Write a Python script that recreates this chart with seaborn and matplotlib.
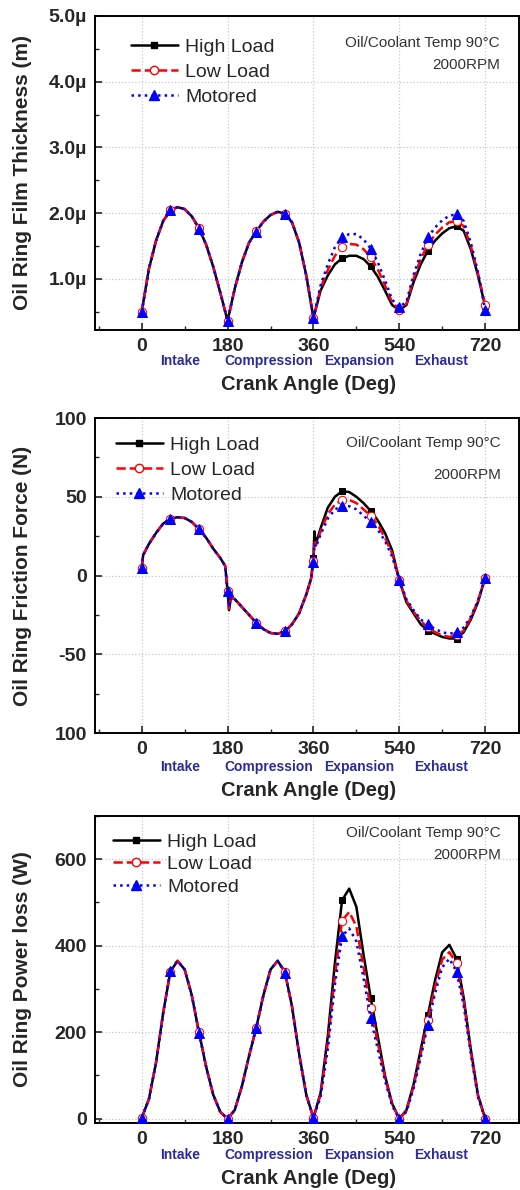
import numpy as np
import pandas as pd
import seaborn as sns
import matplotlib
matplotlib.use("Agg")
import matplotlib.pyplot as plt
from matplotlib.ticker import MultipleLocator
from matplotlib.lines import Line2D

# ---------------- data ----------------
series_names = ["High Load", "Low Load", "Motored"]
phase_labels = ["Intake", "Compression", "Expansion", "Exhaust"]
phase_pos = [80, 266, 456, 628]
x_ticks = [0, 180, 360, 540, 720]

# Panel 1: oil ring film thickness (micro-metres)
ang1 = [0, 15, 30, 45, 60, 75, 90, 105, 120, 135, 150, 165, 180,
        195, 210, 225, 240, 255, 270, 285, 300, 315, 330, 345, 360,
        375, 390, 405, 420, 435, 450, 465, 480, 495, 510, 525, 540,
        555, 570, 585, 600, 615, 630, 645, 660, 675, 690, 705, 720]
film_high = [0.50, 1.15, 1.58, 1.88, 2.04, 2.09, 2.06, 1.95, 1.77, 1.52, 1.18, 0.78, 0.36,
             0.85, 1.25, 1.55, 1.72, 1.87, 1.97, 2.02, 1.99, 1.86, 1.55, 1.05, 0.40,
             0.82, 1.05, 1.22, 1.31, 1.35, 1.35, 1.30, 1.19, 1.03, 0.82, 0.60, 0.52,
             0.60, 0.95, 1.22, 1.43, 1.58, 1.69, 1.77, 1.80, 1.73, 1.45, 1.05, 0.58]
film_low = [0.50, 1.15, 1.58, 1.88, 2.04, 2.09, 2.06, 1.95, 1.77, 1.52, 1.18, 0.78, 0.36,
            0.85, 1.25, 1.55, 1.72, 1.87, 1.97, 2.02, 1.99, 1.86, 1.55, 1.05, 0.40,
            0.86, 1.13, 1.35, 1.48, 1.53, 1.52, 1.45, 1.33, 1.14, 0.90, 0.64, 0.53,
            0.62, 1.00, 1.30, 1.52, 1.67, 1.78, 1.86, 1.88, 1.80, 1.50, 1.08, 0.60]
film_mot = [0.49, 1.15, 1.58, 1.88, 2.04, 2.09, 2.06, 1.95, 1.76, 1.52, 1.18, 0.78, 0.36,
            0.85, 1.25, 1.55, 1.71, 1.87, 1.97, 2.02, 1.99, 1.86, 1.55, 1.05, 0.40,
            0.90, 1.22, 1.48, 1.63, 1.68, 1.68, 1.60, 1.46, 1.25, 0.98, 0.68, 0.57,
            0.65, 1.06, 1.38, 1.63, 1.78, 1.89, 1.96, 1.98, 1.88, 1.55, 1.10, 0.53]

# Panel 2: oil ring friction force (N)
ang2 = [0, 3, 15, 30, 45, 60, 75, 90, 105, 120, 135, 150, 165, 175, 180, 183, 187,
        195, 210, 225, 240, 255, 270, 285, 300, 315, 330, 345, 355, 360, 362, 365,
        375, 390, 405, 420, 435, 450, 465, 480, 495, 510, 525, 540,
        555, 570, 585, 600, 615, 630, 645, 660, 675, 690, 705, 720]
fric_high = [5, 13, 20, 27, 33, 36, 37, 36.5, 34, 29.5, 24, 17, 11, 6, -10, -22, -14,
             -15, -20, -25, -30, -34, -36.5, -37, -35.5, -31, -24, -12, -2, 11, 28, 20,
             30, 43, 50, 53.5, 53, 50, 46, 41, 35, 27, 16, -3,
             -17, -24, -31, -35, -37, -39, -40, -40, -36, -28, -17, -1.5]
fric_low = [5, 13, 20, 27, 33, 36, 37, 36.5, 34, 29.5, 24, 17, 11, 6, -10, -21, -14,
            -15, -20, -25, -30, -34, -36.5, -37, -35.5, -31, -24, -12, -2, 9, 22, 19,
            28, 39, 45, 48, 48, 46, 42, 38, 32, 24, 14, -3,
            -16, -23, -29, -33, -36, -38, -39, -38, -35, -27, -16, -1.5]
fric_mot = [5, 13, 20, 27, 33, 36, 37, 36.5, 34, 29.5, 24, 17, 11, 6, -10, -20, -14,
            -15, -20, -25, -30, -34, -36.5, -37, -35.5, -31, -24, -12, -2, 8.5, 20, 18,
            26, 36, 42, 44, 44, 42, 38, 34, 29, 22, 12, -3,
            -15, -22, -28, -31, -34, -36, -37, -36, -33, -26, -16, -1.5]

# Panel 3: oil ring power loss (W)
ang3 = ang1
power_high = [2, 45, 130, 245, 340, 365, 345, 285, 200, 120, 55, 15, 0,
              20, 75, 145, 210, 285, 345, 365, 340, 260, 150, 55, 2,
              60, 190, 360, 505, 532, 490, 380, 280, 190, 100, 35, 0,
              20, 80, 160, 240, 320, 385, 402, 370, 280, 160, 55, 0]
power_low = [2, 45, 130, 245, 340, 365, 345, 285, 200, 120, 55, 15, 0,
             20, 75, 145, 210, 285, 345, 365, 340, 260, 150, 55, 2,
             55, 175, 330, 458, 478, 445, 350, 255, 175, 95, 33, 0,
             18, 75, 150, 228, 305, 368, 385, 360, 272, 155, 52, 0]
power_mot = [2, 45, 130, 245, 342, 365, 345, 285, 199, 120, 55, 15, 0,
             20, 75, 145, 209, 285, 345, 365, 338, 260, 150, 55, 2,
             50, 160, 310, 422, 440, 410, 325, 232, 160, 88, 30, 0,
             16, 70, 142, 217, 290, 350, 370, 340, 262, 150, 50, 0]

# ---------------- style ----------------
sns.set_theme(style="ticks")
plt.rcParams["font.family"] = ["Liberation Sans", "DejaVu Sans"]
plt.rcParams["axes.unicode_minus"] = False

fig = plt.figure(figsize=(5.2, 11.9), dpi=100)
W, H = 520, 1190
left_px, right_px = 95, 519
panels_px = [(16, 330), (418, 733), (816, 1123)]
xlabel_px = [385, 790, 1178]
phase_px = [361, 767, 1155]

styles = [
    dict(color="black", linestyle="-", marker="s", markersize=5,
         markerfacecolor="black", markeredgecolor="black", linewidth=1.8),
    dict(color="#ff0000", linestyle="--", marker="o", markersize=6,
         markerfacecolor="white", markeredgecolor="#ff0000", linewidth=1.8),
    dict(color="#0000ff", linestyle=":", marker="^", markersize=7,
         markerfacecolor="#0000ff", markeredgecolor="#0000ff", linewidth=1.8),
]

panel_defs = [
    dict(ang=ang1, data=[film_high, film_low, film_mot],
         ylim=(0.22, 5.0), yticks=[1, 2, 3, 4, 5],
         ylabels=["1.0µ", "2.0µ", "3.0µ", "4.0µ", "5.0µ"], minor=0.5,
         ylabel="Oil Ring Film Thickness (m)",
         leg=(131, 38), lsp=0.38, ann=(500, 43, 65)),
    dict(ang=ang2, data=[fric_high, fric_low, fric_mot],
         ylim=(-100, 100), yticks=[-100, -50, 0, 50, 100],
         ylabels=["100", "-50", "0", "50", "100"], minor=25,
         ylabel="Oil Ring Friction Force (N)",
         leg=(116, 436), lsp=0.38, ann=(501, 443, 475)),
    dict(ang=ang3, data=[power_high, power_low, power_mot],
         ylim=(-10, 700), yticks=[0, 200, 400, 600],
         ylabels=["0", "200", "400", "600"], minor=100,
         ylabel="Oil Ring Power loss (W)",
         leg=(113, 833), lsp=0.26, ann=(501, 833, 855)),
]

for i, ((top_px, bot_px), pdef) in enumerate(zip(panels_px, panel_defs)):
    ax = fig.add_axes([left_px / W, 1 - bot_px / H,
                       (right_px - left_px) / W, (bot_px - top_px) / H])
    hpx = bot_px - top_px
    wpx = right_px - left_px
    ang = pdef["ang"]
    mk = [j for j, a in enumerate(ang) if a % 60 == 0]
    for name, vals, st in zip(series_names, pdef["data"], styles):
        df = pd.DataFrame({"angle": ang, "value": vals})
        sns.lineplot(data=df, x="angle", y="value", ax=ax, markevery=mk,
                     legend=False, zorder=3, **st)
    ax.set_xlim(-98, 791)
    ax.set_ylim(*pdef["ylim"])
    ax.set_xticks(x_ticks)
    ax.set_xticklabels([str(t) for t in x_ticks])
    ax.set_yticks(pdef["yticks"])
    ax.set_yticklabels(pdef["ylabels"])
    ax.xaxis.set_minor_locator(MultipleLocator(90))
    ax.yaxis.set_minor_locator(MultipleLocator(pdef["minor"]))
    ax.tick_params(axis="both", which="major", direction="in", length=5,
                   width=1.2, labelsize=14, pad=6)
    ax.tick_params(axis="both", which="minor", direction="in", length=3, width=1.0)
    for lab in ax.get_xticklabels() + ax.get_yticklabels():
        lab.set_fontweight("bold")
    for sp in ax.spines.values():
        sp.set_visible(True)
        sp.set_linewidth(1.4)
        sp.set_color("black")
    ax.grid(True, which="major", linestyle=":", color="#c8c8c8", linewidth=0.9)
    ax.set_axisbelow(True)

    ax.set_xlabel("Crank Angle (Deg)", fontsize=14.5, fontweight="bold", va="center")
    ax.xaxis.set_label_coords((309 - left_px) / wpx, -(xlabel_px[i] - bot_px) / hpx)
    ax.set_ylabel(pdef["ylabel"], fontsize=15, fontweight="bold", va="center")
    ax.yaxis.set_label_coords((23 - left_px) / wpx, 0.5)

    for lab, xp in zip(phase_labels, phase_pos):
        ax.text(xp, -(phase_px[i] - bot_px) / hpx, lab,
                transform=ax.get_xaxis_transform(),
                ha="center", va="center", fontsize=10, fontweight="bold",
                color="#2b2b9a")

    ax_x, y1, y2 = pdef["ann"]
    ax.text((ax_x - left_px) / wpx, (bot_px - y1) / hpx,
            "Oil/Coolant Temp 90°C", transform=ax.transAxes, ha="right",
            va="center", fontsize=11, color="#333333")
    ax.text((ax_x - left_px) / wpx, (bot_px - y2) / hpx,
            "2000RPM", transform=ax.transAxes, ha="right",
            va="center", fontsize=11, color="#333333")

    handles = [Line2D([0], [0], **st) for st in styles]
    lx, ly = pdef["leg"]
    ax.legend(handles, series_names, loc="upper left",
              bbox_to_anchor=((lx - left_px) / wpx, (bot_px - ly) / hpx),
              borderaxespad=0, frameon=False, fontsize=14, handlelength=2.4,
              handletextpad=0.4, labelspacing=pdef["lsp"], borderpad=0)

fig.savefig("out.png", dpi=100)
